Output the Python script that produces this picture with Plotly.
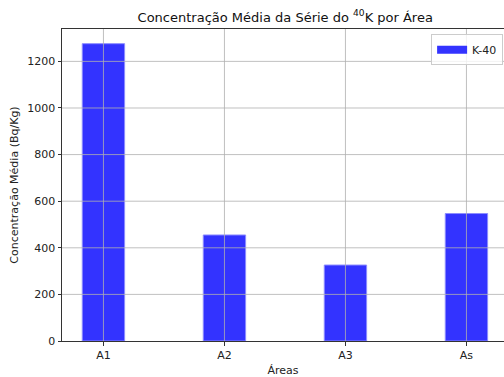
import plotly.graph_objects as go

categories = ["A1", "A2", "A3", "As"]
values = [1276, 455, 326, 547]
series_name = "K-40"
y_ticks = [0, 200, 400, 600, 800, 1000, 1200]

xpos = list(range(len(categories)))
bar_color = "rgba(51,51,255,1)"

fig = go.Figure()
fig.add_trace(go.Bar(
    x=xpos, y=values, name=series_name, width=0.35,
    marker=dict(color=bar_color, line=dict(color="rgba(140,140,255,1)", width=1)),
    showlegend=False,
))
# legend patch (wide rectangle like matplotlib)
fig.add_trace(go.Scatter(
    x=[None], y=[None], mode="lines", name=series_name,
    line=dict(color=bar_color, width=8), showlegend=True,
))

grid_color = "#b0b0b0"
shapes = []
for t in y_ticks[1:]:
    shapes.append(dict(type="line", xref="paper", yref="y", x0=0, x1=1, y0=t, y1=t,
                       line=dict(color=grid_color, width=0.8), layer="above"))
for xp in xpos:
    shapes.append(dict(type="line", xref="x", yref="paper", x0=xp, x1=xp, y0=0, y1=1,
                       line=dict(color=grid_color, width=0.8), layer="above"))

font = "DejaVu Sans"
fig.update_layout(
    width=504, height=377,
    margin=dict(l=62, r=0, t=29, b=36),
    paper_bgcolor="white", plot_bgcolor="white",
    font=dict(family=font, size=11, color="#222"),
    title=dict(text="Concentração Média da Série do <sup>40</sup>K por Área",
               x=0.566, xanchor="center", y=0.955, yanchor="middle",
               font=dict(size=13, color="#111")),
    shapes=shapes,
    showlegend=True,
    legend=dict(x=0.998, xanchor="right", y=0.983, yanchor="top",
                bgcolor="rgba(255,255,255,0.8)", bordercolor="#cccccc", borderwidth=1,
                font=dict(size=11), itemwidth=30, tracegroupgap=0),
    xaxis=dict(
        range=[-0.3425, -0.3425 + 442 / 121], tickvals=xpos, ticktext=categories,
        showgrid=False, zeroline=False, showline=True, linecolor="#333", linewidth=1,
        mirror=True, ticks="outside", ticklen=3.5, tickcolor="#333",
        title=dict(text="Áreas", font=dict(size=11), standoff=5),
    ),
    yaxis=dict(
        range=[0, 1339], tickvals=y_ticks, showgrid=False, zeroline=False,
        showline=True, linecolor="#333", linewidth=1,
        ticks="outside", ticklen=3.5, tickcolor="#333",
        title=dict(text="Concentração Média (Bq/Kg)", font=dict(size=11), standoff=6),
    ),
)

fig.write_html("out.html")
